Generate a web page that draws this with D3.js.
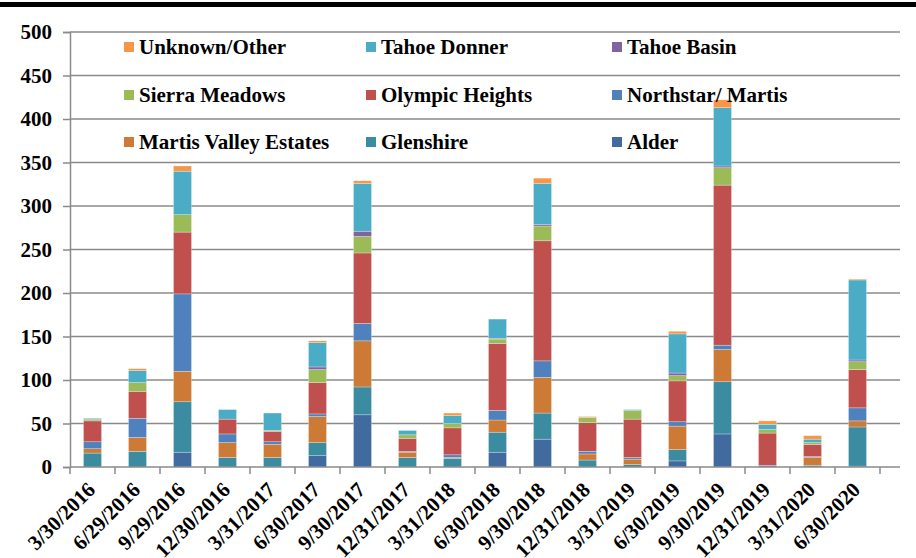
<!DOCTYPE html>
<html lang="en">
<head>
    <meta charset="UTF-8">
    <title>Stacked by area</title>
    <style>
        body { margin: 0; background: #fff; }
        svg text { font-family: "Liberation Serif", "Times New Roman", Times, "DejaVu Serif", serif !important; font-weight: bold; fill: #000; }
    </style>
</head>
<body>
<script src='https://d3js.org/d3.v7.min.js'></script>
<script>
    const categories = ["3/30/2016", "6/29/2016", "9/29/2016", "12/30/2016", "3/31/2017", "6/30/2017",
        "9/30/2017", "12/31/2017", "3/31/2018", "6/30/2018", "9/30/2018", "12/31/2018",
        "3/31/2019", "6/30/2019", "9/30/2019", "12/31/2019", "3/31/2020", "6/30/2020"];

    // stacked bottom to top
    const alder        = [0, 0, 17, 0, 0, 13, 60, 0, 0, 17, 32, 0, 0, 7, 38, 0, 0, 1];
    const glenshire    = [16, 18, 58, 11, 11, 15, 32, 11, 10, 23, 30, 8, 3, 13, 60, 0, 2, 45];
    const martisValley = [5, 16, 35, 17, 15, 30, 53, 6, 1, 14, 41, 7, 6, 27, 37, 0, 9, 7];
    const northstar    = [8, 22, 89, 10, 3, 3, 20, 1, 3, 11, 19, 3, 2, 5, 5, 2, 1, 15];
    const olympic      = [24, 31, 71, 17, 12, 36, 81, 15, 31, 77, 138, 33, 44, 47, 184, 37, 14, 44];
    const sierra       = [2, 10, 20, 0, 1, 15, 19, 4, 5, 5, 17, 6, 10, 6, 20, 4, 2, 9];
    const tahoeBasin   = [0, 0, 0, 0, 0, 3, 6, 0, 0, 1, 2, 0, 0, 3, 2, 0, 0, 2];
    const tahoeDonner  = [1, 14, 50, 11, 20, 28, 55, 5, 9, 22, 47, 0, 1, 45, 67, 6, 4, 92];
    const unknown      = [0, 2, 6, 0, 0, 2, 3, 0, 3, 0, 6, 1, 0, 3, 9, 4, 4, 1];

    const yTicks = [0, 50, 100, 150, 200, 250, 300, 350, 400, 450, 500];

    const seriesList = [
        {name: "Alder", values: alder, color: "#416a9e"},
        {name: "Glenshire", values: glenshire, color: "#3b8ba1"},
        {name: "Martis Valley Estates", values: martisValley, color: "#cc7a35"},
        {name: "Northstar/ Martis", values: northstar, color: "#4f81bd"},
        {name: "Olympic Heights", values: olympic, color: "#c0504d"},
        {name: "Sierra Meadows", values: sierra, color: "#9bbb59"},
        {name: "Tahoe Basin", values: tahoeBasin, color: "#8064a2"},
        {name: "Tahoe Donner", values: tahoeDonner, color: "#4bacc6"},
        {name: "Unknown/Other", values: unknown, color: "#f79646"}
    ];

    // legend layout, rows as in the picture
    const legendRows = [
        ["Unknown/Other", "Tahoe Donner", "Tahoe Basin"],
        ["Sierra Meadows", "Olympic Heights", "Northstar/ Martis"],
        ["Martis Valley Estates", "Glenshire", "Alder"]
    ];

    const width = 916, height = 558;
    const plotLeft = 70, plotRight = 880, gridRight = 900;
    const plotTop = 32, plotBottom = 467;
    const serif = "'Liberation Serif', 'Times New Roman', Times, serif";

    const svg = d3.select("body").append("svg")
        .attr("width", width)
        .attr("height", height);

    // black rule at the very top
    svg.append("rect")
        .attr("x", 0).attr("y", 2)
        .attr("width", width).attr("height", 5)
        .attr("fill", "#000");

    const x = d3.scaleBand()
        .domain(categories)
        .range([plotLeft, plotRight])
        .paddingInner(0.6)
        .paddingOuter(0.3);

    const y = d3.scaleLinear()
        .domain([0, 500])
        .range([plotBottom, plotTop]);

    // gridlines
    svg.append("g")
        .selectAll("line")
        .data(yTicks.slice(1))
        .enter()
        .append("line")
        .attr("x1", plotLeft)
        .attr("x2", gridRight)
        .attr("y1", d => y(d))
        .attr("y2", d => y(d))
        .attr("stroke", "#8a8a8a")
        .attr("stroke-width", 1.5);

    // y axis
    const yAxis = svg.append("g")
        .attr("transform", `translate(${plotLeft},0)`)
        .call(d3.axisLeft(y).tickValues(yTicks).tickSize(7).tickPadding(11));
    yAxis.attr("font-family", serif).attr("font-size", 21);
    yAxis.select(".domain").attr("stroke", "#8a8a8a").attr("stroke-width", 1.5);
    yAxis.selectAll(".tick line").attr("stroke", "#8a8a8a").attr("stroke-width", 1.5);
    yAxis.selectAll(".tick text")
        .style("font-size", "21px")
        .attr("fill", "#000");

    // stacked bars
    const rows = categories.map((c, i) => {
        const r = {cat: c};
        seriesList.forEach(s => r[s.name] = s.values[i]);
        return r;
    });
    const stacked = d3.stack().keys(seriesList.map(s => s.name))(rows);

    svg.append("g")
        .selectAll("g")
        .data(stacked)
        .enter()
        .append("g")
        .attr("fill", (d, i) => seriesList[i].color)
        .selectAll("rect")
        .data(d => d)
        .enter()
        .append("rect")
        .attr("x", d => x(d.data.cat))
        .attr("y", d => y(d[1]))
        .attr("width", x.bandwidth())
        .attr("height", d => y(d[0]) - y(d[1]))
        .attr("stroke", "#ffffff")
        .attr("stroke-opacity", 0.45)
        .attr("stroke-width", 0.6);

    // x axis line and ticks between categories
    svg.append("line")
        .attr("x1", plotLeft).attr("x2", gridRight)
        .attr("y1", plotBottom).attr("y2", plotBottom)
        .attr("stroke", "#8a8a8a").attr("stroke-width", 1.5);

    const gap = (x.step() - x.bandwidth()) / 2;
    const boundaries = categories.map(c => x(c) - gap).concat([x(categories[categories.length - 1]) + x.bandwidth() + gap]);
    svg.append("g")
        .selectAll("line")
        .data(boundaries)
        .enter()
        .append("line")
        .attr("x1", d => d).attr("x2", d => d)
        .attr("y1", plotBottom).attr("y2", plotBottom + 7)
        .attr("stroke", "#8a8a8a").attr("stroke-width", 1.5);

    svg.append("g")
        .selectAll("text")
        .data(categories)
        .enter()
        .append("text")
        .attr("transform", d => `translate(${x(d) + x.bandwidth() / 2 + 4},${plotBottom + 24}) rotate(-45)`)
        .attr("text-anchor", "end")
        .attr("font-size", "21px")
        .text(d => d);

    // legend
    const colX = [124, 366, 612];
    const rowY = [47, 95, 142];
    const colorOf = {};
    seriesList.forEach(s => colorOf[s.name] = s.color);
    legendRows.forEach((row, ri) => {
        row.forEach((name, ci) => {
            svg.append("rect")
                .attr("x", colX[ci]).attr("y", rowY[ri] - 5)
                .attr("width", 10).attr("height", 10)
                .attr("fill", colorOf[name]);
            svg.append("text")
                .attr("x", colX[ci] + 15)
                .attr("y", rowY[ri] + 7)
                .attr("font-size", "21px")
                .text(name);
        });
    });
</script>
</body>
</html>
